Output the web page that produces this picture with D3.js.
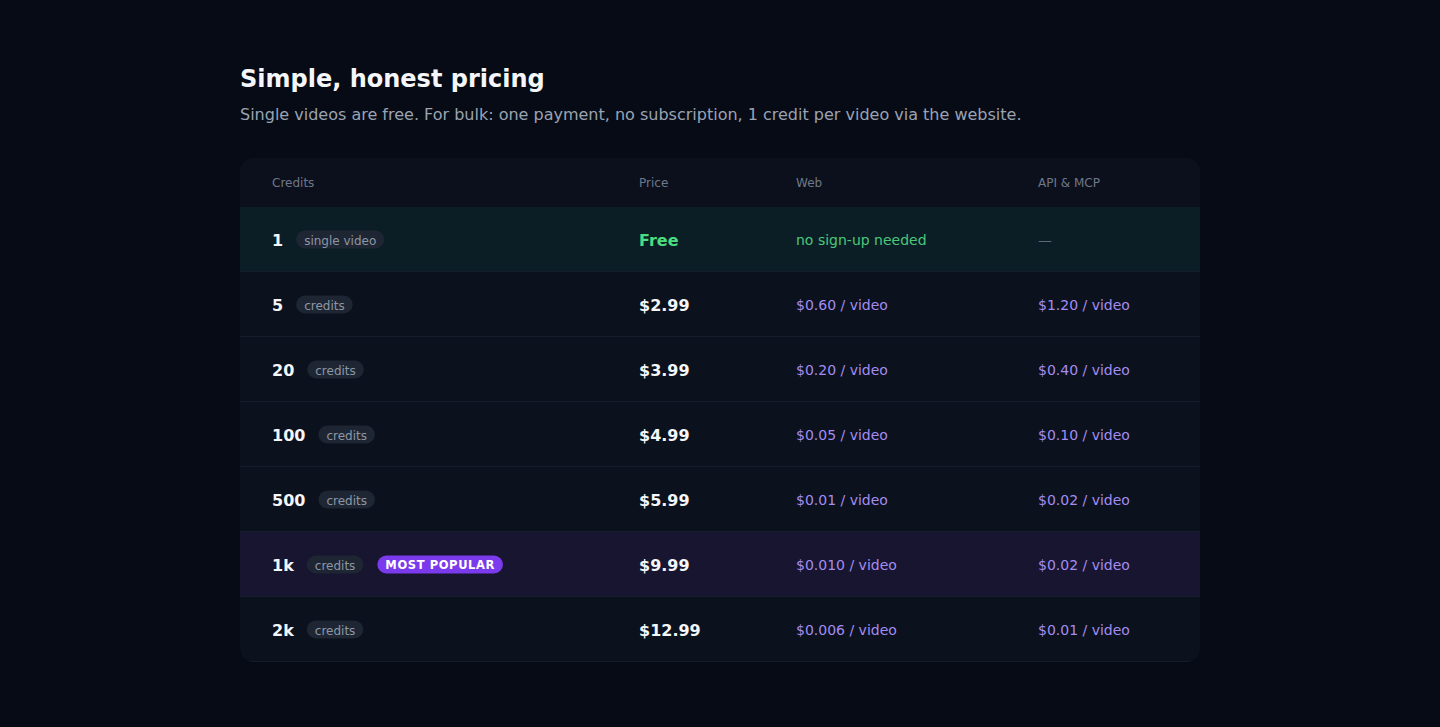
<!DOCTYPE html>
<html><head><meta charset="utf-8">
<script src="https://cdn.jsdelivr.net/npm/d3@7"></script>
<style>body{margin:0;background:#070b16;}svg{display:block;font-family:"DejaVu Sans",sans-serif;}</style>
</head><body><svg id="c" width="1440" height="727"></svg>
<script>
const headers=["Credits","Price","Web","API & MCP"];
const credits=["1","5","20","100","500","1k","2k"];
const pills=["single video","credits","credits","credits","credits","credits","credits"];
const prices=["Free","$2.99","$3.99","$4.99","$5.99","$9.99","$12.99"];
const web=["no sign-up needed","$0.60 / video","$0.20 / video","$0.05 / video","$0.01 / video","$0.010 / video","$0.006 / video"];
const api=["—","$1.20 / video","$0.40 / video","$0.10 / video","$0.02 / video","$0.02 / video","$0.01 / video"];
const popularIndex=5;

const svg=d3.select("#c");
svg.append("rect").attr("width",1440).attr("height",727).attr("fill","#070b16");
svg.append("text").attr("x",240).attr("y",87).attr("fill","#f4f6fa").attr("font-size",24).attr("font-weight","bold").text("Simple, honest pricing");
svg.append("text").attr("x",240).attr("y",120).attr("fill","#9aa3b2").attr("font-size",16).text("Single videos are free. For bulk: one payment, no subscription, 1 credit per video via the website.");

const colX=[272,639,796,1038];
const y=d3.scaleBand().domain(credits).range([207,662]);
const clip=svg.append("defs").append("clipPath").attr("id","tc");
clip.append("rect").attr("x",240).attr("y",158).attr("width",960).attr("height",504).attr("rx",14);
const g=svg.append("g").attr("clip-path","url(#tc)");
g.append("rect").attr("x",240).attr("y",158).attr("width",960).attr("height",504).attr("fill","#0b111d");
g.append("rect").attr("x",240).attr("y",158).attr("width",960).attr("height",49).attr("fill","#0b101c");
headers.forEach((h,i)=>g.append("text").attr("x",colX[i]).attr("y",187).attr("fill","#6f7888").attr("font-size",12).text(h));
g.append("line").attr("x1",240).attr("x2",1200).attr("y1",207.5).attr("y2",207.5).attr("stroke","#1a2230");

credits.forEach((c,i)=>{
  const y0=y(c), h=y.bandwidth(), cy=y0+h/2;
  const bg=i===0?"#0c1e25":i===popularIndex?"#17152f":"#0b111d";
  g.append("rect").attr("x",240).attr("y",y0).attr("width",960).attr("height",h).attr("fill",bg);
  g.append("line").attr("x1",240).attr("x2",1200).attr("y1",y0+h-0.5).attr("y2",y0+h-0.5).attr("stroke","#161d2a");
  const t=g.append("text").attr("x",colX[0]).attr("y",cy+6).attr("fill","#f4f6fa").attr("font-size",16).attr("font-weight","bold").text(c);
  let px=colX[0]+t.node().getComputedTextLength()+13;
  const pt=g.append("text").attr("y",cy+5).attr("fill","#8d96a6").attr("font-size",12).text(pills[i]);
  const pw=pt.node().getComputedTextLength()+16;
  g.insert("rect","text:last-child").attr("x",px).attr("y",cy-9).attr("width",pw).attr("height",18).attr("rx",9).attr("fill","#1e2633");
  pt.attr("x",px+8).raise();
  if(i===popularIndex){
    const bx=px+pw+14;
    const bt=g.append("text").attr("x",bx+8).attr("y",cy+4.5).attr("fill","#ffffff").attr("font-size",11.5).attr("font-weight","bold").attr("letter-spacing",0.6).text("MOST POPULAR");
    const bw=bt.node().getComputedTextLength()+16;
    g.insert("rect","text:last-child").attr("x",bx).attr("y",cy-9).attr("width",bw).attr("height",18).attr("rx",9).attr("fill","#7c3aed");
    bt.raise();
  }
  g.append("text").attr("x",colX[1]).attr("y",cy+6).attr("fill",i===0?"#4ade80":"#f4f6fa").attr("font-size",16).attr("font-weight","bold").text(prices[i]);
  g.append("text").attr("x",colX[2]).attr("y",cy+5).attr("fill",i===0?"#4ac77a":"#a48cf0").attr("font-size",14).text(web[i]);
  g.append("text").attr("x",colX[3]).attr("y",cy+5).attr("fill",i===0?"#5d6676":"#a48cf0").attr("font-size",14).text(api[i]);
});
</script></body></html>
